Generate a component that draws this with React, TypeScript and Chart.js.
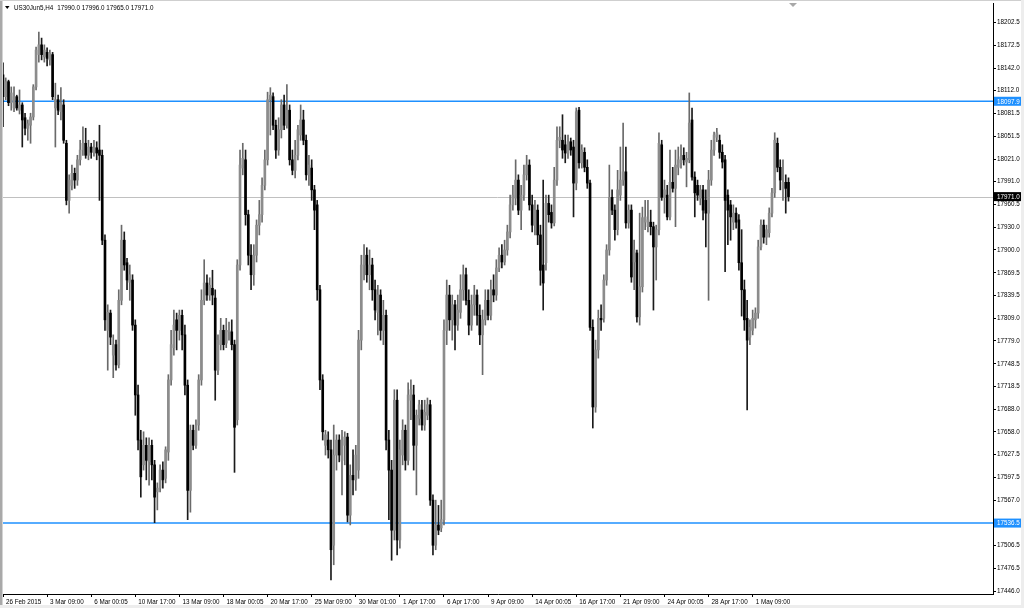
import React, { useEffect, useRef } from 'react';
import { Chart, registerables } from 'chart.js';

Chart.register(...registerables);

const symbolTitle = 'US30Jun5,H4';
const titleQuote = '17990.0 17996.0 17965.0 17971.0';

const xTickLabels = [
  '26 Feb 2015', '3 Mar 09:00', '6 Mar 00:05', '10 Mar 17:00', '13 Mar 09:00', '18 Mar 00:05',
  '20 Mar 17:00', '25 Mar 09:00', '30 Mar 01:00', '1 Apr 17:00', '6 Apr 17:00', '9 Apr 09:00',
  '14 Apr 00:05', '16 Apr 17:00', '21 Apr 09:00', '24 Apr 00:05', '28 Apr 17:00', '1 May 09:00',
];
const barsPerTimeLabel = 16;

const yTickValues = [
  18202.5, 18172.5, 18142.0, 18112.0, 18081.5, 18051.5, 18021.0, 17991.0, 17960.5, 17930.0,
  17900.0, 17869.5, 17839.5, 17809.0, 17779.0, 17748.5, 17718.5, 17688.0, 17658.0, 17627.5,
  17597.5, 17567.0, 17536.5, 17506.5, 17476.5, 17446.0,
];

const resistanceLevel = 18097.9;
const supportLevel = 17536.5;
const lastPrice = 17971.0;

const opens = [
  18133, 18104, 18124, 18096, 18089, 18104, 18086, 18093, 18076, 18062,
  18066, 18077, 18117, 18160, 18173, 18157, 18163, 18153, 18160, 18089,
  18100, 18084, 18093, 18042, 17966, 17986, 18002, 17993, 18020, 18033,
  18042, 18026, 18037, 18030, 18036, 18033, 18026, 17913, 17793, 17816,
  17760, 17774, 17747, 17833, 17913, 17883, 17857, 17860, 17800, 17707,
  17647, 17614, 17640, 17618, 17640, 17614, 17578, 17583, 17607, 17596,
  17631, 17727, 17770, 17807, 17793, 17813, 17787, 17720, 17580, 17660,
  17640, 17667, 17727, 17833, 17856, 17840, 17849, 17836, 17740, 17774,
  17793, 17776, 17791, 17791, 17774, 17674, 17880, 18009, 18020, 17947,
  17893, 17867, 17893, 17933, 17947, 17986, 18020, 18100, 18104, 18066,
  18033, 18060, 18093, 18066, 18086, 18020, 18006, 18026, 18053, 18073,
  18046, 18000, 18009, 17980, 17960, 17847, 17727, 17640, 17647, 17634,
  17507, 17627, 17647, 17620, 17640, 17651, 17547, 17600, 17594, 17607,
  17780, 17880, 17893, 17867, 17880, 17847, 17817, 17840, 17793, 17813,
  17647, 17607, 17527, 17700, 17514, 17627, 17660, 17620, 17700, 17707,
  17640, 17676, 17687, 17667, 17680, 17694, 17567, 17507, 17534, 17530,
  17541, 17793, 17840, 17807, 17827, 17800, 17817, 17847, 17867, 17833,
  17800, 17827, 17840, 17813, 17787, 17807, 17833, 17813, 17847, 17840,
  17876, 17893, 17884, 17900, 17924, 17960, 17969, 17993, 17953, 17973,
  18000, 18013, 17960, 17933, 17953, 17920, 17880, 17883, 17962, 17950,
  17936, 17993, 18046, 18046, 18040, 18029, 18044, 18037, 17989, 18086,
  18016, 18030, 18010, 17989, 17797, 17691, 17767, 17809, 17809, 17860,
  17900, 17970, 17953, 17927, 17973, 17993, 18004, 17936, 17953, 17884,
  17896, 17811, 17851, 17937, 17931, 17937, 17931, 17904, 17927, 18040,
  17970, 17973, 17944, 17990, 17982, 18010, 18016, 18026, 18017, 18020,
  18073, 17997, 17986, 17969, 17980, 17966, 17949, 17993, 18033, 18050,
  18046, 18030, 18020, 17973, 17960, 17937, 17949, 17940, 17883, 17847,
  17809, 17784, 17793, 17807, 17816, 17904, 17933, 17917, 17923, 17949,
  17976, 18042, 18010, 17980, 17990, 17990,
];

const highs = [
  18149, 18129, 18126, 18117, 18117, 18106, 18113, 18096, 18082, 18073,
  18082, 18120, 18170, 18190, 18182, 18173, 18169, 18166, 18163, 18122,
  18106, 18116, 18100, 18046, 18000, 18013, 18009, 18026, 18046, 18064,
  18062, 18046, 18042, 18046, 18044, 18066, 18033, 17920, 17827, 17820,
  17787, 17780, 17847, 17933, 17924, 17889, 17880, 17867, 17807, 17720,
  17660, 17658, 17650, 17650, 17647, 17620, 17590, 17614, 17618, 17638,
  17734, 17793, 17820, 17816, 17820, 17820, 17800, 17727, 17667, 17667,
  17674, 17734, 17847, 17887, 17867, 17863, 17873, 17847, 17787, 17809,
  17800, 17809, 17804, 17807, 17780, 17887, 18033, 18042, 18033, 17953,
  17907, 17907, 17940, 17966, 17996, 18033, 18110, 18116, 18109, 18073,
  18076, 18100, 18106, 18120, 18093, 18033, 18046, 18066, 18093, 18086,
  18053, 18026, 18020, 17986, 17966, 17853, 17734, 17660, 17658, 17647,
  17667, 17654, 17654, 17660, 17658, 17656, 17614, 17634, 17640, 17793,
  17893, 17907, 17903, 17900, 17889, 17860, 17853, 17847, 17833, 17820,
  17660, 17620, 17714, 17714, 17647, 17674, 17667, 17723, 17727, 17720,
  17687, 17700, 17700, 17700, 17703, 17700, 17574, 17567, 17560, 17567,
  17807, 17860, 17853, 17840, 17833, 17840, 17867, 17880, 17876, 17847,
  17840, 17853, 17847, 17827, 17820, 17847, 17847, 17860, 17867, 17887,
  17903, 17907, 17913, 17933, 17973, 17986, 18020, 18000, 17986, 18013,
  18026, 18020, 17973, 17966, 17960, 17933, 17993, 17973, 17973, 17960,
  18010, 18064, 18064, 18080, 18053, 18053, 18049, 18046, 18089, 18090,
  18040, 18036, 18020, 17993, 17807, 17780, 17820, 17827, 17867, 17907,
  18013, 17980, 17960, 18006, 18037, 18069, 18037, 17960, 17960, 17913,
  17900, 17949, 17957, 17966, 17966, 17953, 17937, 17933, 18056, 18046,
  17993, 17986, 18033, 18010, 18033, 18037, 18040, 18036, 18030, 18109,
  18089, 18004, 17993, 17986, 17986, 17980, 18006, 18046, 18057, 18062,
  18053, 18040, 18026, 17980, 17966, 17960, 17956, 17947, 17927, 17860,
  17833, 17807, 17820, 17823, 17913, 17940, 17940, 17933, 17956, 17982,
  18056, 18049, 18020, 18020, 18000, 17996,
];

const lows = [
  18064, 18100, 18092, 18086, 18084, 18086, 18081, 18037, 18053, 18046,
  18042, 18073, 18113, 18150, 18153, 18150, 18145, 18146, 18100, 18037,
  18080, 18073, 18042, 17960, 17949, 17980, 17982, 17986, 18013, 18026,
  18022, 18020, 18022, 18025, 18020, 17966, 17907, 17793, 17740, 17774,
  17730, 17740, 17743, 17827, 17873, 17847, 17833, 17793, 17680, 17634,
  17571, 17607, 17594, 17587, 17594, 17537, 17554, 17578, 17583, 17590,
  17620, 17720, 17760, 17767, 17780, 17767, 17707, 17541, 17551, 17634,
  17636, 17660, 17720, 17827, 17833, 17833, 17827, 17700, 17734, 17767,
  17767, 17770, 17780, 17767, 17604, 17667, 17873, 18000, 17933, 17880,
  17847, 17853, 17884, 17920, 17937, 17980, 18013, 18053, 18060, 18022,
  18026, 18049, 18060, 18062, 18013, 18000, 17996, 18020, 18046, 18040,
  17993, 17986, 17966, 17927, 17833, 17714, 17647, 17627, 17623, 17461,
  17481, 17607, 17618, 17574, 17614, 17538, 17534, 17574, 17580, 17596,
  17767, 17860, 17857, 17847, 17833, 17807, 17787, 17780, 17774, 17634,
  17541, 17487, 17514, 17494, 17503, 17614, 17607, 17614, 17674, 17607,
  17574, 17667, 17660, 17660, 17674, 17560, 17494, 17501, 17521, 17525,
  17534, 17774, 17793, 17780, 17767, 17793, 17809, 17833, 17827, 17787,
  17793, 17813, 17800, 17774, 17734, 17800, 17807, 17807, 17831, 17833,
  17871, 17876, 17880, 17893, 17916, 17953, 17960, 17947, 17927, 17966,
  17993, 17953, 17924, 17920, 17907, 17853, 17820, 17873, 17937, 17929,
  17932, 17986, 18036, 18022, 18016, 18022, 18026, 17944, 17980, 18009,
  18009, 18004, 17982, 17793, 17663, 17684, 17756, 17793, 17804, 17853,
  17893, 17947, 17913, 17920, 17966, 17986, 17929, 17929, 17857, 17847,
  17804, 17800, 17844, 17927, 17924, 17920, 17820, 17860, 17920, 17966,
  17949, 17940, 17940, 17977, 17931, 18000, 18009, 18013, 17984, 18016,
  17993, 17944, 17966, 17960, 17940, 17904, 17833, 17986, 18026, 18044,
  18022, 18009, 17871, 17907, 17913, 17927, 17929, 17873, 17812, 17793,
  17687, 17774, 17787, 17796, 17809, 17900, 17909, 17907, 17917, 17944,
  17970, 18004, 17980, 17966, 17949, 17965,
];

const closes = [
  18104, 18124, 18096, 18109, 18104, 18089, 18093, 18073, 18062, 18068,
  18077, 18117, 18166, 18173, 18160, 18166, 18155, 18162, 18104, 18100,
  18086, 18096, 18046, 17966, 17993, 18002, 17993, 18020, 18033, 18042,
  18026, 18037, 18030, 18036, 18029, 18026, 17913, 17807, 17817, 17784,
  17774, 17747, 17833, 17913, 17880, 17860, 17867, 17800, 17707, 17647,
  17598, 17640, 17620, 17640, 17614, 17571, 17583, 17607, 17594, 17634,
  17727, 17774, 17800, 17793, 17813, 17787, 17720, 17580, 17660, 17640,
  17667, 17727, 17833, 17856, 17840, 17853, 17840, 17740, 17780, 17793,
  17774, 17793, 17793, 17774, 17664, 17880, 18013, 18022, 17947, 17893,
  17867, 17893, 17933, 17947, 17986, 18020, 18100, 18106, 18066, 18033,
  18060, 18093, 18066, 18086, 18020, 18006, 18026, 18060, 18073, 18046,
  18000, 18013, 17980, 17953, 17847, 17727, 17658, 17654, 17634, 17501,
  17627, 17647, 17627, 17647, 17651, 17547, 17600, 17594, 17627, 17780,
  17880, 17893, 17867, 17880, 17847, 17820, 17840, 17793, 17813, 17647,
  17607, 17527, 17700, 17514, 17634, 17660, 17620, 17707, 17714, 17640,
  17680, 17694, 17667, 17684, 17694, 17567, 17507, 17534, 17527, 17541,
  17793, 17840, 17807, 17827, 17800, 17820, 17847, 17867, 17833, 17800,
  17827, 17840, 17813, 17787, 17807, 17833, 17813, 17847, 17840, 17876,
  17893, 17884, 17900, 17924, 17960, 17973, 17993, 17953, 17973, 18000,
  18013, 17960, 17933, 17953, 17920, 17873, 17856, 17962, 17947, 17936,
  17993, 18046, 18050, 18033, 18029, 18044, 18033, 17989, 18084, 18016,
  18033, 18010, 17989, 17797, 17691, 17767, 17809, 17807, 17860, 17900,
  17970, 17953, 17927, 17980, 17993, 18004, 17936, 17953, 17864, 17900,
  17811, 17851, 17943, 17944, 17940, 17931, 17904, 17927, 18042, 17970,
  17980, 17944, 17990, 17982, 18013, 18020, 18024, 18020, 18022, 18069,
  17997, 17976, 17973, 17980, 17953, 17949, 17993, 18033, 18053, 18056,
  18030, 18017, 17966, 17953, 17944, 17949, 17937, 17883, 17847, 17807,
  17780, 17797, 17809, 17816, 17904, 17933, 17917, 17927, 17949, 17976,
  18046, 18010, 17993, 17990, 17982, 17971,
];

const FONT = '"Liberation Sans", Arial, sans-serif';
const FONT_SIZE = 6.3;
const BULL_BODY = '#8c8c8c';
const BULL_WICK = '#6a6a6a';
const BEAR_BODY = '#000000';
const BEAR_WICK = '#1a1a1a';
const LEVEL_BLUE = '#1e90ff';

const decorPlugin = {
  id: 'mt4Decor',
  beforeDraw(chart: any) {
    const { ctx, width, height } = chart;
    ctx.save();
    ctx.fillStyle = '#ffffff';
    ctx.fillRect(0, 0, width, height);
    ctx.restore();
  },
  beforeDatasetsDraw(chart: any) {
    const { ctx, chartArea: a, scales } = chart;
    const y = scales.y;
    ctx.save();
    ctx.beginPath();
    ctx.rect(a.left, a.top, a.right - a.left, a.bottom - a.top);
    ctx.clip();
    const yl = Math.round(y.getPixelForValue(lastPrice)) + 0.5;
    ctx.strokeStyle = '#c0c0c0';
    ctx.lineWidth = 1;
    ctx.beginPath();
    ctx.moveTo(0, yl);
    ctx.lineTo(a.right, yl);
    ctx.stroke();
    for (const lv of [resistanceLevel, supportLevel]) {
      const yy = y.getPixelForValue(lv);
      ctx.strokeStyle = LEVEL_BLUE;
      ctx.lineWidth = 1.5;
      ctx.beginPath();
      ctx.moveTo(0, yy);
      ctx.lineTo(a.right, yy);
      ctx.stroke();
    }
    ctx.restore();
  },
  afterDraw(chart: any) {
    const { ctx, chartArea: a, scales, width, height } = chart;
    const y = scales.y;
    ctx.save();
    ctx.font = `${FONT_SIZE}px ${FONT}`;
    ctx.textBaseline = 'middle';
    ctx.textAlign = 'left';
    const tag = (v: number, bg: string) => {
      const yy = y.getPixelForValue(v);
      ctx.fillStyle = bg;
      ctx.fillRect(a.right + 1, yy - 4.5, 27, 9);
      ctx.fillStyle = '#ffffff';
      ctx.fillText(v.toFixed(1), a.right + 4, yy + 0.5);
    };
    tag(resistanceLevel, LEVEL_BLUE);
    tag(supportLevel, LEVEL_BLUE);
    tag(lastPrice, '#000000');

    // title
    ctx.fillStyle = '#000000';
    ctx.beginPath();
    ctx.moveTo(5, 6);
    ctx.lineTo(9.5, 6);
    ctx.lineTo(7.25, 9);
    ctx.closePath();
    ctx.fill();
    ctx.fillText(symbolTitle, 14, 8.5);
    const tw = ctx.measureText(symbolTitle).width;
    ctx.fillText(titleQuote, 14 + tw + 4, 8.5);

    // chart shift marker
    ctx.fillStyle = '#a8a8a8';
    ctx.beginPath();
    ctx.moveTo(789, 3);
    ctx.lineTo(797, 3);
    ctx.lineTo(793, 7);
    ctx.closePath();
    ctx.fill();

    // window frame
    ctx.fillStyle = '#a9a9a9';
    ctx.fillRect(0, 0, 2.5, height);
    ctx.fillStyle = '#cfcfcf';
    ctx.fillRect(0, 0, width, 1);
    ctx.fillStyle = '#ededed';
    ctx.fillRect(0, height - 3, width, 3);
    ctx.fillRect(width - 3, 0, 3, height);
    ctx.restore();
  },
};

export default function App() {
  const canvasRef = useRef<HTMLCanvasElement | null>(null);

  useEffect(() => {
    const canvas = canvasRef.current;
    if (!canvas) return;
    const n = closes.length;
    const bodies: any[] = [];
    const wicks: any[] = [];
    const bodyColors: string[] = [];
    const wickColors: string[] = [];
    for (let i = 0; i < n; i++) {
      const o = opens[i];
      const c = closes[i];
      const bull = c >= o;
      bodies.push({ x: i, y: [Math.min(o, c), Math.max(o, c)] });
      wicks.push({ x: i, y: [Math.min(lows[i], o, c), Math.max(highs[i], o, c)] });
      bodyColors.push(bull ? BULL_BODY : BEAR_BODY);
      wickColors.push(bull ? BULL_WICK : BEAR_WICK);
    }
    const tickFont = { family: FONT, size: FONT_SIZE };

    const chart = new Chart(canvas, {
      type: 'bar',
      data: {
        datasets: [
          {
            label: 'body',
            data: bodies,
            backgroundColor: bodyColors,
            borderWidth: 0,
            barThickness: 2,
            minBarLength: 1,
            grouped: false,
          } as any,
          {
            label: 'wick',
            data: wicks,
            backgroundColor: wickColors,
            borderWidth: 0,
            barThickness: 1,
            grouped: false,
          } as any,
        ],
      },
      options: {
        responsive: false,
        animation: false,
        devicePixelRatio: 1,
        layout: { padding: { left: 3, top: 3, right: 0, bottom: 0 } },
        plugins: {
          legend: { display: false },
          tooltip: { enabled: false },
          title: { display: false },
        },
        events: [],
        scales: {
          x: {
            type: 'linear',
            offset: false,
            min: 0,
            max: 359.2,
            afterBuildTicks: (s: any) => {
              s.ticks = xTickLabels.map((_, k) => ({ value: k * barsPerTimeLabel }));
            },
            afterFit: (s: any) => {
              s.height = 14;
              s.paddingLeft = 0;
              s.paddingRight = 0;
            },
            grid: { offset: false, drawOnChartArea: false, drawTicks: true, tickLength: 3, color: '#000000', lineWidth: 1 },
            border: { display: true, color: '#000000', width: 1 },
            ticks: {
              autoSkip: false,
              maxRotation: 0,
              minRotation: 0,
              align: 'start',
              labelOffset: 3,
              padding: 1,
              color: '#000000',
              font: tickFont,
              callback: (_v: any, idx: number) => xTickLabels[idx],
            },
          } as any,
          y: {
            type: 'linear',
            position: 'right',
            min: 17442.1,
            max: 18228.7,
            afterBuildTicks: (s: any) => {
              s.ticks = yTickValues.map((v) => ({ value: v }));
            },
            afterFit: (s: any) => {
              s.width = 31;
              s.paddingTop = 0;
              s.paddingBottom = 0;
            },
            grid: { drawOnChartArea: false, drawTicks: true, tickLength: 3, color: '#000000', lineWidth: 1 },
            border: { display: true, color: '#000000', width: 1 },
            ticks: {
              autoSkip: false,
              padding: 1,
              color: '#000000',
              font: tickFont,
              callback: (v: any) => Number(v).toFixed(1),
            },
          } as any,
        },
      },
      plugins: [decorPlugin],
    });
    return () => chart.destroy();
  }, []);

  return (
    <div style={{ position: 'fixed', left: 0, top: 0, width: 1024, height: 608, background: '#fff' }}>
      <canvas ref={canvasRef} width={1024} height={608} style={{ display: 'block', width: 1024, height: 608 }} />
    </div>
  );
}
